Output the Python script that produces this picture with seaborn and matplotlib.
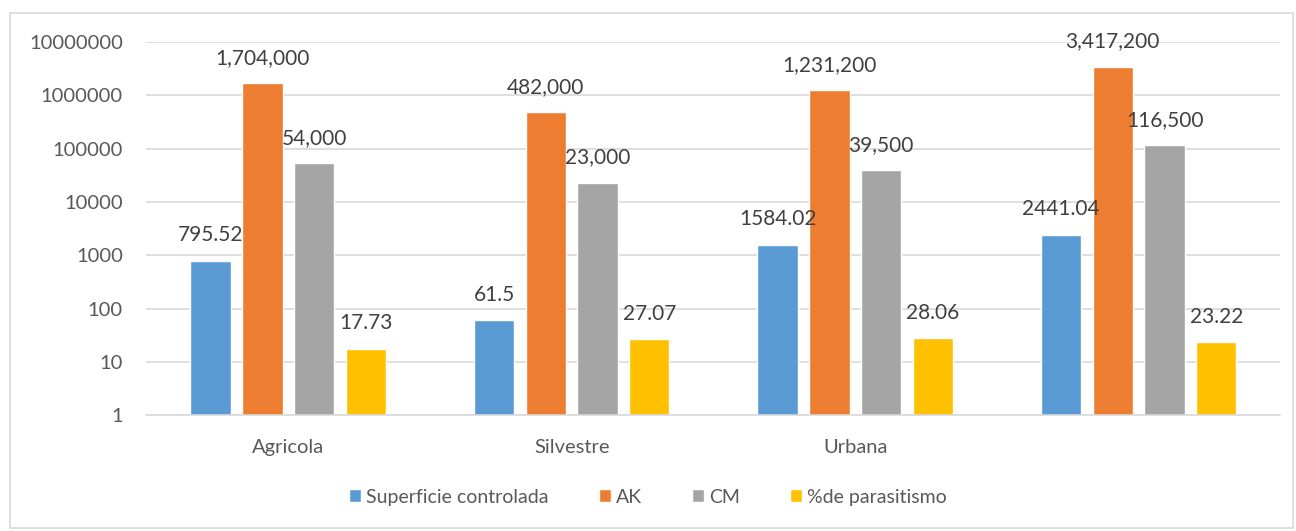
import matplotlib
matplotlib.use("Agg")
import matplotlib.pyplot as plt
from matplotlib.patches import Rectangle
import seaborn as sns
import pandas as pd

# data
zonas = ["Agricola", "Silvestre", "Urbana", " "]
series = ["Superficie controlada", "AK", "CM", "%de parasitismo"]
superficie = [795.52, 61.5, 1584.02, 2441.04]
ak = [1704000, 482000, 1231200, 3417200]
cm = [54000, 23000, 39500, 116500]
parasitismo = [17.73, 27.07, 28.06, 23.22]
colores = ["#5B9BD5", "#ED7D31", "#A5A5A5", "#FFC000"]

rows = []
for s, vals in zip(series, [superficie, ak, cm, parasitismo]):
    for z, v in zip(zonas, vals):
        rows.append({"zona": z, "serie": s, "valor": v})
df = pd.DataFrame(rows)

sns.set_style("white")
plt.rcParams["font.family"] = ["Lato", "DejaVu Sans"]
txt = "#595959"

fig = plt.figure(figsize=(12.96, 5.31), dpi=100)
ax = fig.add_axes([0.113, 0.218, 0.875, 0.703])
sns.barplot(data=df, x="zona", y="valor", hue="serie", order=zonas, hue_order=series,
            palette=colores, width=0.73, gap=0.22, ax=ax, saturation=1, legend=True)
ax.set_yscale("log")
ax.set_ylim(1, 1e7)
ax.set_xlim(-0.5, 3.5)
ticks = [10 ** i for i in range(8)]
ax.set_yticks(ticks)
ax.set_yticklabels([str(t) for t in ticks])
ax.minorticks_off()
ax.yaxis.grid(True, color="#D9D9D9", linewidth=1.2)
ax.set_axisbelow(True)
for s in ["top", "right", "left"]:
    ax.spines[s].set_visible(False)
ax.spines["bottom"].set_color("#D9D9D9")
ax.spines["bottom"].set_linewidth(1.2)
ax.tick_params(axis="y", length=0, pad=17, labelsize=14.5, labelcolor=txt)
ax.tick_params(axis="x", length=0, pad=17, labelsize=14.5, labelcolor=txt)
ax.set_xlabel("")
ax.set_ylabel("")

fmts = [lambda v: f"{v:g}", lambda v: f"{v:,.0f}", lambda v: f"{v:,.0f}", lambda v: f"{v:.2f}"]
for cont, vals, f in zip(ax.containers, [superficie, ak, cm, parasitismo], fmts):
    ax.bar_label(cont, labels=[f(v) for v in vals], padding=11, fontsize=15, color="#404040")

handles, labels = ax.get_legend_handles_labels()
ax.get_legend().remove()
fig.legend(handles, labels, loc="center", bbox_to_anchor=(0.5, 0.064), ncol=4, frameon=False,
           fontsize=14, labelcolor=txt, handlelength=0.6, handleheight=0.6,
           handletextpad=0.25, columnspacing=2.6)

fig.patches.append(Rectangle((10 / 1296, 3 / 531), 1283 / 1296, 515 / 531, transform=fig.transFigure,
                             fill=False, edgecolor="#D9D9D9", linewidth=1.2))
fig.savefig("out.png", dpi=100)
